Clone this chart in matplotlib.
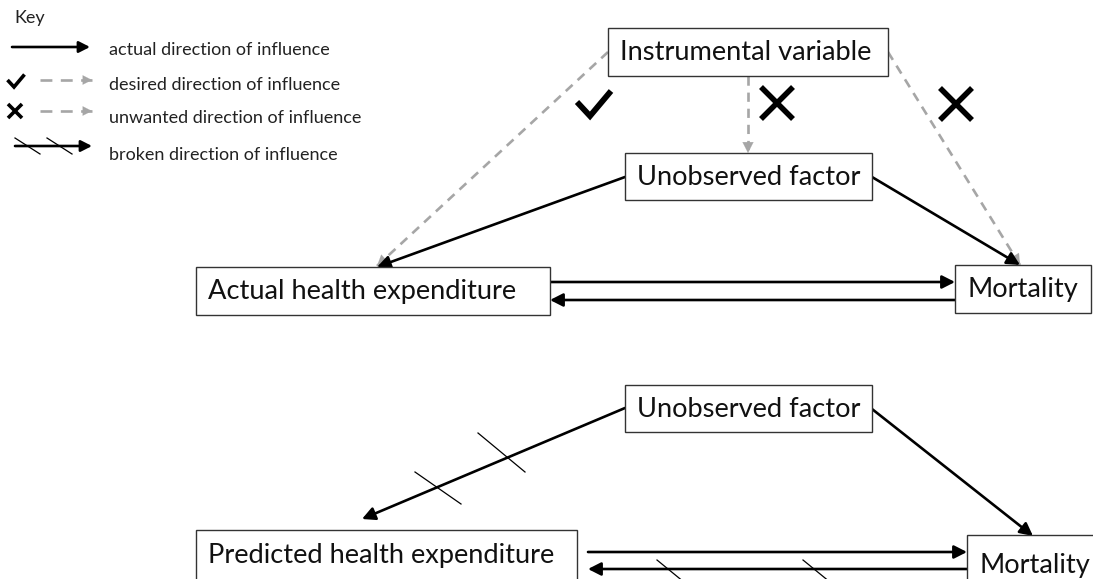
import matplotlib
matplotlib.use('Agg')
import matplotlib.pyplot as plt
from matplotlib.patches import Rectangle

# ---- content ----
key_title = "Key"
key_labels = ["actual direction of influence", "desired direction of influence",
              "unwanted direction of influence", "broken direction of influence"]
node_labels = ["Instrumental variable", "Unobserved factor", "Actual health expenditure",
               "Mortality", "Unobserved factor", "Predicted health expenditure", "Mortality"]

# ---- layout (pixel coordinates, origin top-left) ----
W, H = 1093, 579
node_boxes = [(608, 28, 888, 76), (625, 153, 872, 200), (196, 267, 550, 315),
              (955, 265, 1091, 313), (625, 385, 872, 432), (196, 530, 577, 580),
              (967, 535, 1110, 605)]
text_dy = [0, 0, 0, 0, 0, 0, -6]

BLACK = '#000000'
GRAY = '#A6A6A6'
FONT = ['Lato', 'DejaVu Sans']

fig = plt.figure(figsize=(W / 100, H / 100), dpi=100)
ax = fig.add_axes([0, 0, 1, 1])
ax.set_xlim(0, W)
ax.set_ylim(H, 0)
ax.axis('off')


def arrow(x0, y0, x1, y1, color=BLACK, lw=1.9, dashed=False, hl=0.55, hw=0.28, ms=14,
          dashes=(3.5, 2.6)):
    if dashed:
        ax.plot([x0, x1], [y0, y1], color=color, lw=lw, dashes=dashes, solid_capstyle='butt',
                zorder=2)
        f = 0.02
        ax.annotate('', xy=(x1, y1), xytext=(x1 - (x1 - x0) * f, y1 - (y1 - y0) * f),
                    arrowprops=dict(arrowstyle=f'-|>,head_length={hl},head_width={hw}',
                                    color=color, lw=0.1, shrinkA=0, shrinkB=0,
                                    mutation_scale=ms), zorder=3)
    else:
        ax.annotate('', xy=(x1, y1), xytext=(x0, y0),
                    arrowprops=dict(arrowstyle=f'-|>,head_length={hl},head_width={hw}',
                                    color=color, lw=lw, shrinkA=0, shrinkB=0,
                                    mutation_scale=ms), zorder=3)


def tick(x0, y0, x1, y1, lw=0.9):
    ax.plot([x0, x1], [y0, y1], color=BLACK, lw=lw, zorder=4)


def check(cx, cy, s=1.0, lw=3.6):
    ax.plot([cx - 17 * s, cx - 4 * s, cx + 17 * s], [cy - 2 * s, cy + 12 * s, cy - 13 * s],
            color=BLACK, lw=lw, solid_joinstyle='miter', solid_capstyle='butt', zorder=4)


def cross(cx, cy, r=15, lw=3.6):
    ax.plot([cx - r, cx + r], [cy - r, cy + r], color=BLACK, lw=lw, solid_capstyle='butt', zorder=4)
    ax.plot([cx - r, cx + r], [cy + r, cy - r], color=BLACK, lw=lw, solid_capstyle='butt', zorder=4)


# ---- boxes ----
for label, (l, t, r, b), dy in zip(node_labels, node_boxes, text_dy):
    ax.add_patch(Rectangle((l, t), r - l, b - t, facecolor='white', edgecolor='#333333',
                           lw=1.0, zorder=5, clip_on=True))
    ax.text(l + 12, (t + b) / 2 + 1 + dy, label, fontsize=19.6, family=FONT, ha='left',
            va='center', color='#111111', zorder=6)

# ---- top diagram ----
arrow(608, 52, 377, 266, color=GRAY, lw=1.9, dashed=True)
arrow(748, 76, 748, 153, color=GRAY, lw=1.9, dashed=True)
arrow(888, 52, 1020, 265, color=GRAY, lw=1.9, dashed=True)
arrow(625, 177, 377, 267)
arrow(872, 177, 1020, 265)
arrow(550, 282, 955, 282)
arrow(955, 300, 550, 300)
check(594, 104, s=1.0, lw=4.2)
cross(777, 103, r=16, lw=4.0)
cross(956, 104, r=16, lw=4.0)

# ---- bottom diagram ----
arrow(625, 408, 362, 519)
arrow(872, 409, 1033, 536)
arrow(588, 552, 967, 552)
arrow(967, 569, 588, 569)
tick(415, 472, 461, 504)
tick(478, 433, 525, 472)
tick(657, 560, 690, 587)
tick(803, 560, 836, 587)

# ---- key ----
ax.text(14, 18, key_title, fontsize=13, family=FONT, ha='left', va='center', color='#222222')
key_y = [50, 85, 118, 155]
for lab, y in zip(key_labels, key_y):
    ax.text(109, y, lab, fontsize=13, family=FONT, ha='left', va='center', color='#222222')
arrow(12, 47, 90, 47, lw=1.9, ms=12)
check(16, 81, s=0.5, lw=2.6)
arrow(40, 80, 92, 80, color=GRAY, lw=1.9, dashed=True, ms=12, dashes=(4.5, 3.2))
cross(15, 111, r=7, lw=2.6)
arrow(40, 111, 92, 111, color=GRAY, lw=1.9, dashed=True, ms=12, dashes=(4.5, 3.2))
arrow(15, 146, 92, 146, lw=1.9, ms=12)
tick(15, 138, 40, 154)
tick(47, 138, 72, 154)

fig.savefig('out.png', dpi=100)
